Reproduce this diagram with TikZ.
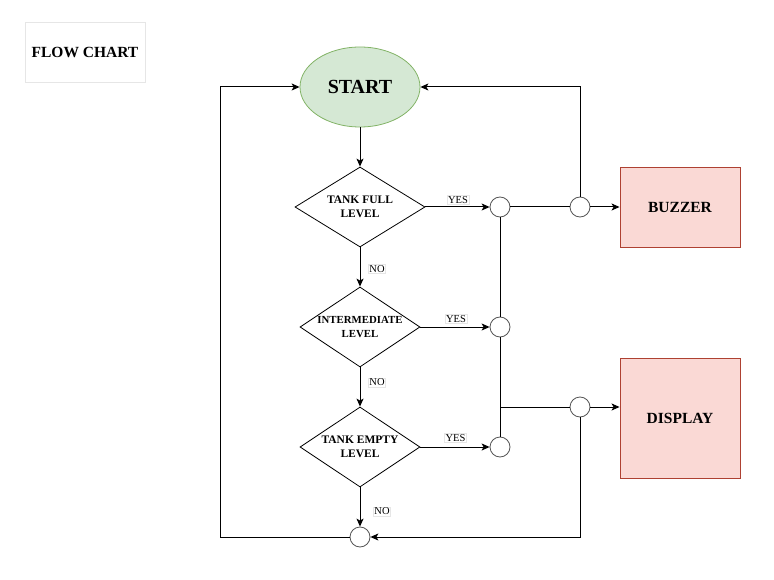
\documentclass[tikz,border=0pt]{standalone}
\usepackage{fontspec}
\setmainfont{Liberation Serif}
\usetikzlibrary{shapes.geometric,arrows.meta}
\definecolor{startfill}{HTML}{D5E8D4}
\definecolor{startdraw}{HTML}{82B366}
\definecolor{outfill}{HTML}{FAD9D5}
\definecolor{outdraw}{HTML}{AE4132}
\definecolor{titledraw}{HTML}{E6E6E6}
\definecolor{circdraw}{HTML}{555555}
\newcommand{\zl}[1]{\makebox[0pt]{#1}}
\tikzset{
  arr/.style={-{Stealth[length=8pt,width=7pt,inset=2pt]}, line width=1pt},
  ln/.style={line width=1pt},
  decision/.style={diamond, draw, line width=0.8pt, inner sep=0pt, align=center,
    font=\fontsize{11.5}{14.5}\selectfont\bfseries},
  junction/.style={circle, draw=circdraw, fill=white, line width=0.8pt, minimum size=20pt, inner sep=0pt},
  outbox/.style={rectangle, draw=outdraw, fill=outfill, line width=0.9pt, inner sep=0pt,
    font=\fontsize{15.5}{18}\selectfont\bfseries},
  lbl/.style={draw=titledraw, fill=white, inner sep=1pt, font=\fontsize{10.5}{11}\selectfont},
}
\begin{document}
\begin{tikzpicture}[x=1pt,y=-1pt]
\useasboundingbox (0,0) rectangle (774,580);
% title
\node[draw=titledraw, line width=0.8pt, minimum width=120pt, minimum height=60pt, inner sep=0pt,
  font=\fontsize{15.5}{18}\selectfont\bfseries] (title) at (85,52) {FLOW CHART};
% start
\node[ellipse, draw=startdraw, fill=startfill, line width=0.8pt, minimum width=120pt, minimum height=80pt,
  inner sep=0pt, font=\fontsize{20}{24}\selectfont\bfseries] (start) at (360,87) {START};
% decisions
\node[decision, minimum width=130pt, minimum height=80pt, aspect=1.6] (d1) at (360,207) {\zl{TANK FULL}\\\zl{LEVEL}};
\node[decision, minimum width=120pt, minimum height=80pt, aspect=1.5, font=\fontsize{10.8}{14.5}\selectfont\bfseries] (d2) at (360,327) {\zl{INTERMEDIATE}\\\zl{LEVEL}};
\node[decision, minimum width=120pt, minimum height=80pt, aspect=1.5] (d3) at (360,447) {\zl{TANK EMPTY}\\\zl{LEVEL}};
% junctions
\node[junction] (c1) at (500,207) {};
\node[junction] (c2) at (580,207) {};
\node[junction] (c3) at (500,327) {};
\node[junction] (c4) at (580,407) {};
\node[junction] (c5) at (500,447) {};
\node[junction] (c6) at (360,537) {};
% outputs
\node[outbox, minimum width=120pt, minimum height=80pt] (buzzer) at (680,207) {BUZZER};
\node[outbox, minimum width=120pt, minimum height=120pt] (display) at (680,418) {DISPLAY};
% helper coordinates
\coordinate (j) at (500,407);
\coordinate (lb) at (220,537);
\coordinate (rb) at (580,537);
% main flow
\draw[arr] (start.south) -- (d1.north);
\draw[arr] (d1.south) -- (d2.north);
\draw[arr] (d2.south) -- (d3.north);
\draw[arr] (d3.south) -- (c6.north);
% yes branches
\draw[arr] (d1.east) -- (c1.west);
\draw[arr] (d2.east) -- (c3.west);
\draw[arr] (d3.east) -- (c5.west);
% right network
\draw[ln] (c1.east) -- (c2.west);
\draw[arr] (c2.east) -- (buzzer.west);
\draw[ln] (c1.south) -- (c3.north);
\draw[ln] (c3.south) -- (c5.north);
\draw[ln] (j) -- (c4.west);
\draw[arr] (c4.east) -- (c4.east -| display.west);
\draw[arr] (c2.north) |- (start.east);
\draw[arr] (c4.south) -- (rb) -- (c6.east);
\draw[arr] (c6.west) -- (lb) |- (start.west);
% labels
\node[lbl] (y1) at (458,200) {YES};
\node[lbl] (y2) at (456,319) {YES};
\node[lbl] (y3) at (455.5,438) {YES};
\node[lbl] (n1) at (377,269) {NO};
\node[lbl] (n2) at (377,382.5) {NO};
\node[lbl] (n3) at (382,511.5) {NO};
\end{tikzpicture}
\end{document}
